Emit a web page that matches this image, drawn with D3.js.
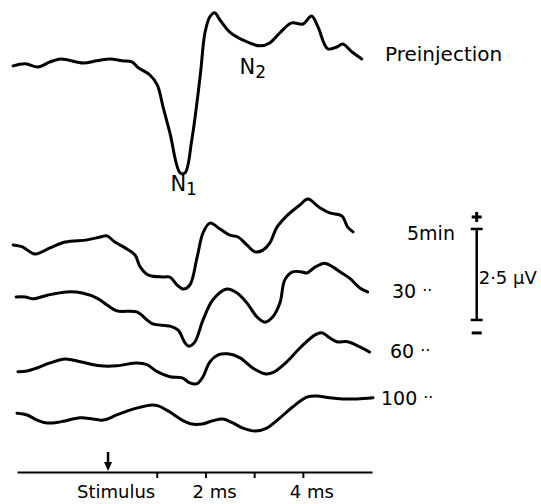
<!DOCTYPE html>
<html>
<head>
  <style>
    body { margin: 0; background: #fff; }
    svg { display: block; }
    text { font-family: "DejaVu Sans", sans-serif; fill: #000; }
    .trace { fill: none; stroke: #000; stroke-width: 3; stroke-linejoin: round; stroke-linecap: round; }
  </style>
</head>
<body>
  <div id="chart"></div>

  <script src="https://d3js.org/d3.v7.min.js"></script>
  <script>
    // traces: [time (ms), potential (µV) relative to trace baseline]
    const preinjection = [[-1.95,-0.11],[-1.70,-0.05],[-1.44,-0.14],[-1.19,0],[-0.98,0.08],[-0.82,0.05],[-0.51,-0.03],[-0.23,0.03],[0.04,0.08],[0.29,0.03],[0.49,0],[0.62,-0.16],[0.86,-0.36],[1.01,-0.63],[1.13,-1.24],[1.27,-1.95],[1.48,-3.05],[1.58,-3.05],[1.72,-2.14],[1.89,-0.41],[1.99,0.80],[2.09,1.24],[2.19,1.35],[2.30,1.15],[2.50,0.82],[2.77,0.60],[3.12,0.44],[3.32,0.52],[3.53,0.80],[3.77,1.07],[4.00,1.04],[4.18,1.26],[4.31,0.96],[4.51,0.36],[4.70,0.41],[4.82,0.49],[5.01,0.27],[5.21,0.08]];
    const min5 = [[-1.95,0],[-1.76,-0.05],[-1.66,-0.14],[-1.50,-0.25],[-1.19,-0.08],[-0.88,0.08],[-0.43,0.14],[-0.16,0.22],[-0.02,0.25],[0.14,0.08],[0.35,-0.08],[0.55,-0.27],[0.66,-0.60],[0.82,-0.82],[1.13,-0.88],[1.27,-0.88],[1.42,-1.10],[1.54,-1.21],[1.68,-1.10],[1.83,-0.33],[1.95,0.33],[2.09,0.60],[2.30,0.44],[2.50,0.27],[2.67,0.22],[2.85,0],[3.02,-0.19],[3.18,-0.14],[3.32,0.05],[3.47,0.49],[3.67,0.80],[3.94,1.10],[4.10,1.26],[4.35,1.02],[4.55,0.88],[4.80,0.80],[4.92,0.49],[5.03,0.36]];
    const min30 = [[-1.89,0],[-1.70,0],[-1.54,-0.05],[-1.25,0.05],[-0.84,0.14],[-0.53,0.11],[-0.23,-0.03],[-0.02,-0.22],[0.18,-0.38],[0.59,-0.41],[0.80,-0.63],[0.92,-0.74],[1.27,-0.80],[1.44,-0.91],[1.58,-1.26],[1.66,-1.35],[1.78,-1.24],[1.95,-0.63],[2.15,-0.08],[2.44,0.22],[2.65,0.11],[2.85,-0.16],[3.06,-0.55],[3.22,-0.69],[3.38,-0.55],[3.53,-0.16],[3.63,0.47],[3.79,0.69],[3.98,0.69],[4.08,0.66],[4.25,0.82],[4.45,0.93],[4.62,0.82],[4.80,0.66],[4.96,0.52],[5.17,0.25],[5.33,0.14]];
    const min60 = [[-1.85,-0.05],[-1.66,-0.03],[-1.46,0.05],[-1.19,0.19],[-0.88,0.30],[-0.57,0.22],[-0.16,0.11],[0.18,0.11],[0.59,0.19],[0.80,0.14],[1.01,-0.05],[1.27,-0.19],[1.52,-0.22],[1.68,-0.36],[1.83,-0.38],[1.95,-0.19],[2.09,0.22],[2.26,0.41],[2.46,0.44],[2.71,0.33],[2.97,0.05],[3.22,-0.11],[3.38,-0.08],[3.67,0.22],[3.94,0.60],[4.25,0.96],[4.39,1.02],[4.55,0.88],[4.70,0.77],[4.92,0.77],[5.17,0.63],[5.37,0.49]];
    const min100 = [[-1.87,0.05],[-1.66,0],[-1.46,-0.14],[-1.25,-0.22],[-0.98,-0.19],[-0.57,-0.08],[-0.31,-0.11],[-0.10,-0.14],[0.18,0],[0.51,0.16],[0.86,0.27],[1.03,0.25],[1.27,0.08],[1.52,-0.14],[1.72,-0.25],[1.93,-0.25],[2.15,-0.16],[2.36,-0.11],[2.56,-0.22],[2.77,-0.36],[3.02,-0.44],[3.26,-0.36],[3.53,-0.08],[3.79,0.22],[4.08,0.49],[4.29,0.52],[4.55,0.47],[4.82,0.44],[5.11,0.44],[5.44,0.47]];

    const traces = [preinjection, min5, min30, min60, min100];
    const traceNames = ['Preinjection', '5min', '30', '60', '100'];
    const traceDitto = [false, false, true, true, true];
    // vertical offset of each trace baseline, µV below top of figure
    const traceOffsets = [-1.70, -6.73, -8.16, -10.16, -11.40];

    const tickValues = [1, 2, 3, 4];
    const tickLabels = ['Stimulus', '2 ms', '4 ms'];
    const tickLabelTimes = [0, 2, 4];
    const stimulusTime = 0;
    const calibration = 2.5; // µV

    const width = 541;
    const height = 504;

    const svg = d3.select('#chart')
      .append('svg')
      .attr('width', width)
      .attr('height', height);

    const x = d3.scaleLinear()
      .domain([-1.87, 5.42])
      .range([17, 372]);

    // 36.4 px per µV, up is positive
    const y = d3.scaleLinear()
      .domain([0, -height / 36.4])
      .range([0, height]);

    const line = d3.line()
      .x(d => x(d[0]))
      .curve(d3.curveCatmullRom.alpha(0.5));

    svg.append('g')
      .selectAll('path')
      .data(traces)
      .enter()
      .append('path')
      .attr('class', 'trace')
      .attr('d', (d, i) => line.y(p => y(p[1] + traceOffsets[i]))(d));

    // N1 / N2 markers
    const peakLabel = (t, v, sub) => {
      const txt = svg.append('text')
        .attr('x', x(t))
        .attr('y', y(v))
        .attr('font-size', 21)
        .text('N');
      txt.append('tspan')
        .attr('dy', 4)
        .attr('font-size', 17)
        .text(sub);
    };
    peakLabel(1.28, traceOffsets[0] - 3.54, '1');
    peakLabel(2.70, traceOffsets[0] - 0.33, '2');

    // trace names
    const labelX = [385, 407, 392, 390, 381];
    const labelDy = [-1, -5, 1, -12, -10];
    traceNames.forEach((name, i) => {
      const t = svg.append('text')
        .attr('x', labelX[i])
        .attr('y', y(traceOffsets[i]) + labelDy[i])
        .attr('font-size', i === 0 ? 20 : 19)
        .text(name);
      if (traceDitto[i]) {
        t.append('tspan')
          .attr('dx', 6)
          .attr('dy', -2)
          .attr('font-size', 16)
          .text('··');
      }
    });

    // calibration bar
    const calX = x(7.57);
    const calTop = y(-6.29);
    const calBottom = y(-6.29 - calibration);
    const cal = svg.append('g')
      .attr('stroke', '#000')
      .attr('stroke-width', 2.5)
      .attr('fill', 'none');
    cal.append('line').attr('x1', calX).attr('x2', calX).attr('y1', calTop).attr('y2', calBottom);
    cal.append('line').attr('x1', calX - 6).attr('x2', calX + 6).attr('y1', calTop).attr('y2', calTop);
    cal.append('line').attr('x1', calX - 6).attr('x2', calX + 6).attr('y1', calBottom).attr('y2', calBottom);
    // plus / minus signs
    cal.append('line').attr('x1', calX - 5).attr('x2', calX + 5).attr('y1', calTop - 12).attr('y2', calTop - 12).attr('stroke-width', 3);
    cal.append('line').attr('x1', calX).attr('x2', calX).attr('y1', calTop - 17).attr('y2', calTop - 7).attr('stroke-width', 3);
    cal.append('line').attr('x1', calX - 5).attr('x2', calX + 5).attr('y1', calBottom + 13).attr('y2', calBottom + 13).attr('stroke-width', 3);

    svg.append('text')
      .attr('x', calX + 2)
      .attr('y', (calTop + calBottom) / 2 + 10)
      .attr('font-size', 18)
      .text('2·5 µV');

    // time axis
    const axisY = 472;
    const axis = svg.append('g')
      .attr('transform', `translate(0, ${axisY})`)
      .call(d3.axisBottom(x)
        .tickValues(tickValues)
        .tickSize(6)
        .tickSizeOuter(0)
        .tickFormat(''));
    axis.select('.domain').attr('stroke-width', 2);
    axis.selectAll('.tick line').attr('stroke-width', 2);

    // stimulus arrow
    const sx = x(stimulusTime);
    svg.append('line')
      .attr('x1', sx).attr('x2', sx)
      .attr('y1', axisY - 20).attr('y2', axisY - 8)
      .attr('stroke', '#000')
      .attr('stroke-width', 2.5);
    svg.append('path')
      .attr('d', `M${sx - 4},${axisY - 10}L${sx + 4},${axisY - 10}L${sx},${axisY - 1}Z`)
      .attr('fill', '#000');

    svg.append('g')
      .selectAll('text')
      .data(tickLabels)
      .enter()
      .append('text')
      .attr('x', (d, i) => i === 0 ? x(tickLabelTimes[i]) + 8 : x(tickLabelTimes[i]) - 13)
      .attr('y', 498)
      .attr('text-anchor', (d, i) => i === 0 ? 'middle' : 'start')
      .attr('font-size', 18)
      .text(d => d);
  </script>
</body>
</html>
